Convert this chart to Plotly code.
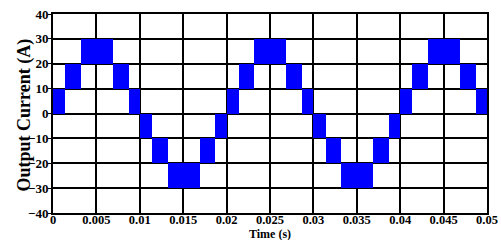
import plotly.graph_objects as go

# Switching-interval boundaries (s) and the current band each interval occupies (A)
t_edges = [0.0, 0.0014, 0.0032, 0.0069, 0.0087, 0.0100,
           0.0114, 0.0132, 0.0169, 0.0187, 0.0200,
           0.0214, 0.0232, 0.0269, 0.0287, 0.0300,
           0.0314, 0.0332, 0.0369, 0.0387, 0.0400,
           0.0414, 0.0432, 0.0469, 0.0487, 0.0500]
band_low = [0, 10, 20, 10, 0,
            -10, -20, -30, -20, -10,
            0, 10, 20, 10, 0,
            -10, -20, -30, -20, -10,
            0, 10, 20, 10, 0]
band_high = [v + 10 for v in band_low]

x_ticks = [0, 0.005, 0.01, 0.015, 0.02, 0.025, 0.03, 0.035, 0.04, 0.045, 0.05]
x_tick_text = ["0", "0.005", "0.01", "0.015", "0.02", "0.025", "0.03", "0.035", "0.04", "0.045", "0.05"]
y_ticks = [-40, -30, -20, -10, 0, 10, 20, 30, 40]
x_title = "Time (s)"
y_title = "Output Current (A)"

centers = [(a + b) / 2 for a, b in zip(t_edges[:-1], t_edges[1:])]
widths = [b - a for a, b in zip(t_edges[:-1], t_edges[1:])]
heights = [h - l for h, l in zip(band_high, band_low)]

fig = go.Figure(go.Bar(
    x=centers, y=heights, base=band_low, width=widths,
    marker=dict(color="#0000FF", line=dict(width=0)),
    showlegend=False, hoverinfo="skip",
))

font_family = "Liberation Serif, Times New Roman, serif"
W, H = 501, 240
ML, MR, MT, MB = 53, 14, 14, 27
pw, ph = W - ML - MR, H - MT - MB

fig.update_layout(
    width=W, height=H,
    margin=dict(l=ML, r=MR, t=MT, b=MB, autoexpand=False),
    paper_bgcolor="white", plot_bgcolor="white",
    barmode="overlay", bargap=0,
    font=dict(family=font_family, size=13, color="black", weight="bold"),
    annotations=[
        dict(text=x_title, xref="paper", yref="paper", x=0.5, y=-20.5 / ph,
             xanchor="center", yanchor="middle", showarrow=False,
             font=dict(size=12, family=font_family, weight="bold")),
        dict(text=y_title, xref="paper", yref="paper", x=-29 / pw, y=0.49,
             xanchor="center", yanchor="middle", showarrow=False, textangle=-90,
             font=dict(size=18, family=font_family, weight="bold")),
    ],
)
fig.update_xaxes(
    range=[0, 0.05], tickvals=x_ticks, ticktext=x_tick_text,
    showgrid=True, gridcolor="black", gridwidth=1.6,
    showline=True, linecolor="black", linewidth=2, mirror=True,
    zeroline=False, ticks="", ticklen=0, automargin=False,
    ticklabelstandoff=-6,
    tickfont=dict(size=12.5, family=font_family, weight="bold"),
)
fig.update_yaxes(
    range=[-40, 40], tickvals=y_ticks,
    showgrid=True, gridcolor="black", gridwidth=1.6,
    showline=True, linecolor="black", linewidth=2, mirror=True,
    zeroline=False, ticks="outside", ticklen=3, tickcolor="black", automargin=False,
    ticklabelstandoff=-3,
    tickfont=dict(size=13, family=font_family, weight="bold"),
)

fig.write_html("out.html", config={"displayModeBar": False},
               post_script="document.body.style.margin='0';document.body.style.overflow='hidden';")
